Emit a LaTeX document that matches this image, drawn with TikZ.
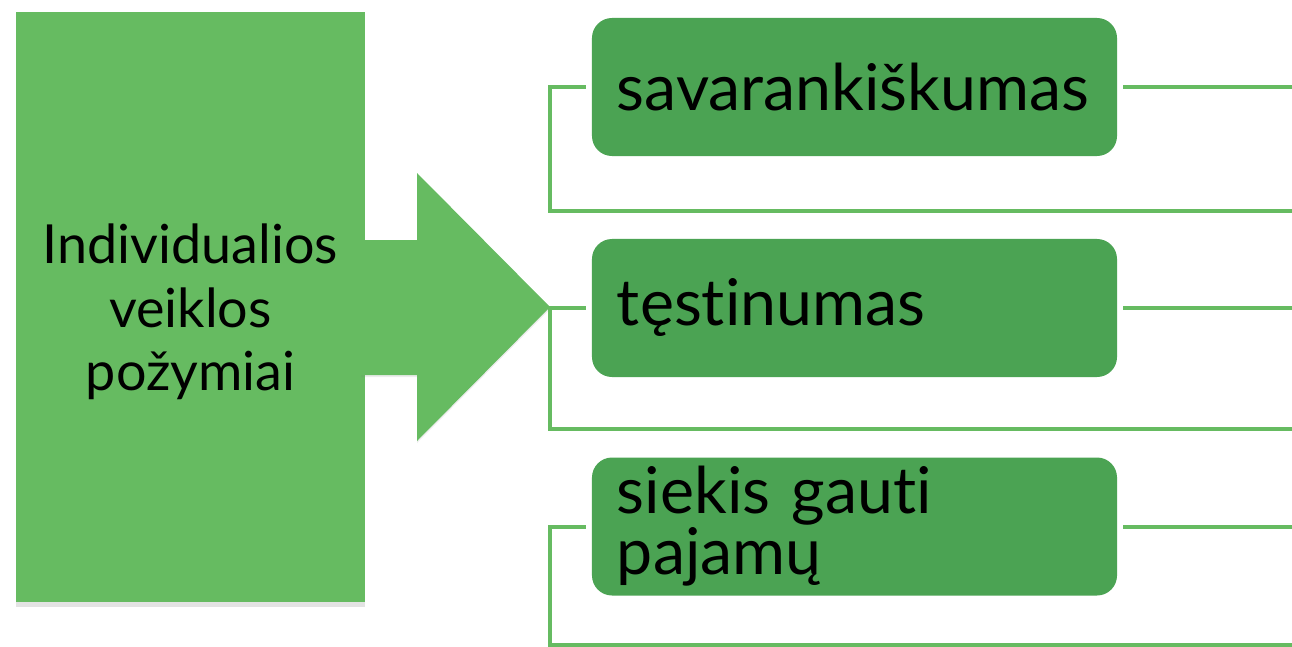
\documentclass[tikz,border=0pt]{standalone}
\usepackage{fontspec}
\setmainfont{Lato}[Ligatures=NoCommon]
\usetikzlibrary{positioning, shadows}
\definecolor{leafgreen}{RGB}{102,187,97}
\definecolor{boxgreen}{RGB}{75,163,83}

\begin{document}
\begin{tikzpicture}[
    x=0.03cm, y=-0.03cm,
    mainbox/.style={
      fill=leafgreen,
      minimum width=10.47cm,
      minimum height=17.7cm,
      align=center,
      inner sep=0pt,
      font=\fontsize{46}{54}\selectfont,
      drop shadow={shadow xshift=0pt, shadow yshift=-0.15cm, opacity=0.22}
    },
    itembox/.style={
      fill=boxgreen,
      rounded corners=0.6cm,
      text width=14.25cm,
      inner xsep=0.75cm,
      inner ysep=0pt,
      minimum height=4.14cm,
      align=left,
      font=\fontsize{55}{52}\selectfont
    },
    bracket/.style={draw=leafgreen, line width=0.12cm}
]
\useasboundingbox (0,0) rectangle (1292,647);

% left block and the big arrow
\node[mainbox] (main) at (190.5,307) {};
\node[font=\fontsize{46}{54}\selectfont, align=center] (maintext) at (190.5,312) {Individualios\\veiklos\\požymiai};
\coordinate (tip) at (550,307);
\fill[leafgreen, drop shadow={shadow xshift=0pt, shadow yshift=-0.06cm, opacity=0.15}]
  (361,240) -- (417,240) -- (417,173) -- (tip) -- (417,441) -- (417,375) -- (361,375) -- cycle;

% items
\node[itembox] (item1) at (854.5,87) {savarankiškumas};
\node[itembox] (item2) at (854.5,308) {tęstinumas};
\node[itembox] (item3) at (854.5,526.5) {siekis gauti\\pajamų};

% right ends of the brackets
\coordinate (end1) at (1292,211);
\coordinate (end2) at (1292,429);
\coordinate (end3) at (1292,645);

\draw[bracket] ([xshift=-0.18cm]item1.west) -- (tip |- item1.west) |- (end1);
\draw[bracket] ([xshift=-0.18cm]item2.west) -- (tip |- item2.west) |- (end2);
\draw[bracket] ([xshift=-0.18cm]item3.west) -- (tip |- item3.west) |- (end3);
\draw[bracket] ([xshift=0.18cm]item1.east) -- (item1.east -| end1);
\draw[bracket] ([xshift=0.18cm]item2.east) -- (item2.east -| end2);
\draw[bracket] ([xshift=0.18cm]item3.east) -- (item3.east -| end3);
\end{tikzpicture}
\end{document}
